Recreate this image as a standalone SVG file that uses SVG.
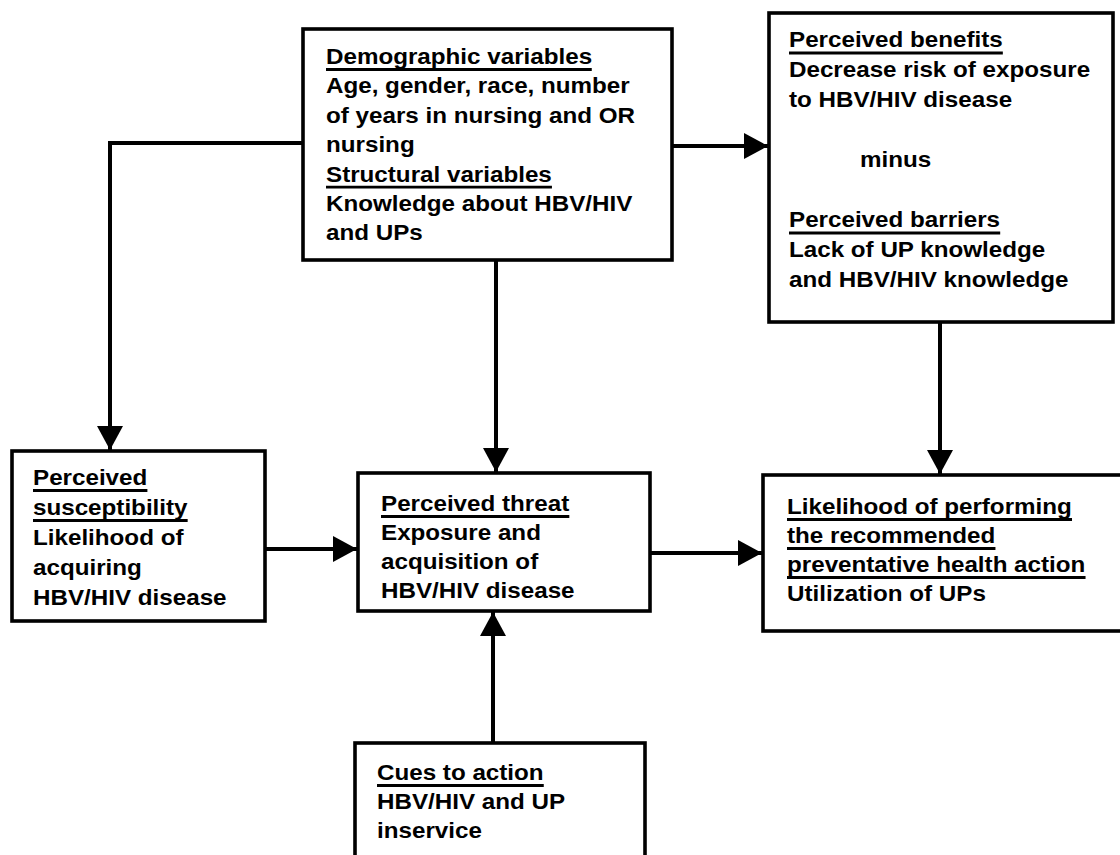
<svg xmlns="http://www.w3.org/2000/svg" width="1120" height="855" viewBox="0 0 1120 855">
<defs>
<style>
.box{fill:#fff;stroke:#000;stroke-width:3.6}
.t{font-family:"Liberation Sans",Arial,Helvetica,sans-serif;font-weight:bold;font-size:22px;fill:#000}
.ul{stroke:#000;stroke-width:2.8}
.con{fill:none;stroke:#000;stroke-width:4;marker-end:url(#ah)}
</style>
<marker id="ah" markerUnits="userSpaceOnUse" markerWidth="26" markerHeight="28" refX="24" refY="13" orient="auto">
<path d="M0,0 L24,13 L0,26 Z" fill="#000"/>
</marker>
</defs>
<rect width="1120" height="855" fill="#fff"/>

<g id="connectors">
<path class="con" d="M303,143 H110 V450"/>
<path class="con" d="M672,146 H768"/>
<path class="con" d="M496,260 V472"/>
<path class="con" d="M940,322 V474"/>
<path class="con" d="M265,549 H357"/>
<path class="con" d="M650,553 H762"/>
<path class="con" d="M493,743 V612"/>
</g>

<g id="demographic">
<rect class="box" x="303" y="29" width="369" height="231"/>
<g transform="translate(326 0) scale(1.1 1)">
<text class="t">
<tspan x="0" y="64">Demographic variables</tspan>
<tspan x="0" y="93.4">Age, gender, race, number</tspan>
<tspan x="0" y="122.8">of years in nursing and OR</tspan>
<tspan x="0" y="152.2">nursing</tspan>
<tspan x="0" y="181.6">Structural variables</tspan>
<tspan x="0" y="211">Knowledge about HBV/HIV</tspan>
<tspan x="0" y="240.4">and UPs</tspan>
</text>
<line class="ul" x1="0" y1="69.5" x2="241.6" y2="69.5"/>
<line class="ul" x1="0" y1="187.1" x2="205.4" y2="187.1"/>
</g>
</g>

<g id="benefits">
<rect class="box" x="769" y="13" width="344" height="309"/>
<g transform="translate(789 0) scale(1.1 1)">
<text class="t">
<tspan x="0" y="47.5">Perceived benefits</tspan>
<tspan x="0" y="77.5">Decrease risk of exposure</tspan>
<tspan x="0" y="107.5">to HBV/HIV disease</tspan>
<tspan x="64.5" y="167.5">minus</tspan>
<tspan x="0" y="227.5">Perceived barriers</tspan>
<tspan x="0" y="257.5">Lack of UP knowledge</tspan>
<tspan x="0" y="287.5">and HBV/HIV knowledge</tspan>
</text>
<line class="ul" x1="0" y1="53" x2="194.4" y2="53"/>
<line class="ul" x1="0" y1="233" x2="192" y2="233"/>
</g>
</g>

<g id="susceptibility">
<rect class="box" x="12" y="451" width="253" height="170"/>
<g transform="translate(33 0) scale(1.1 1)">
<text class="t">
<tspan x="0" y="485">Perceived</tspan>
<tspan x="0" y="515">susceptibility</tspan>
<tspan x="0" y="545">Likelihood of</tspan>
<tspan x="0" y="575">acquiring</tspan>
<tspan x="0" y="605">HBV/HIV disease</tspan>
</text>
<line class="ul" x1="0" y1="490.5" x2="104" y2="490.5"/>
<line class="ul" x1="0" y1="520.5" x2="140.6" y2="520.5"/>
</g>
</g>

<g id="threat">
<rect class="box" x="358" y="473" width="292" height="138"/>
<g transform="translate(381 0) scale(1.1 1)">
<text class="t">
<tspan x="0" y="511">Perceived threat</tspan>
<tspan x="0" y="540">Exposure and</tspan>
<tspan x="0" y="569">acquisition of</tspan>
<tspan x="0" y="598">HBV/HIV disease</tspan>
</text>
<line class="ul" x1="0" y1="516.5" x2="171.2" y2="516.5"/>
</g>
</g>

<g id="likelihood">
<rect class="box" x="763" y="475" width="380" height="156"/>
<g transform="translate(787 0) scale(1.1 1)">
<text class="t">
<tspan x="0" y="514">Likelihood of performing</tspan>
<tspan x="0" y="543">the recommended</tspan>
<tspan x="0" y="572">preventative health action</tspan>
<tspan x="0" y="601">Utilization of UPs</tspan>
</text>
<line class="ul" x1="0" y1="519.5" x2="259.1" y2="519.5"/>
<line class="ul" x1="0" y1="548.5" x2="189.5" y2="548.5"/>
<line class="ul" x1="0" y1="577.5" x2="271.4" y2="577.5"/>
</g>
</g>

<g id="cues">
<rect class="box" x="355" y="743" width="290" height="130"/>
<g transform="translate(377 0) scale(1.1 1)">
<text class="t">
<tspan x="0" y="780">Cues to action</tspan>
<tspan x="0" y="809">HBV/HIV and UP</tspan>
<tspan x="0" y="838">inservice</tspan>
</text>
<line class="ul" x1="0" y1="785.5" x2="151.6" y2="785.5"/>
</g>
</g>
</svg>
